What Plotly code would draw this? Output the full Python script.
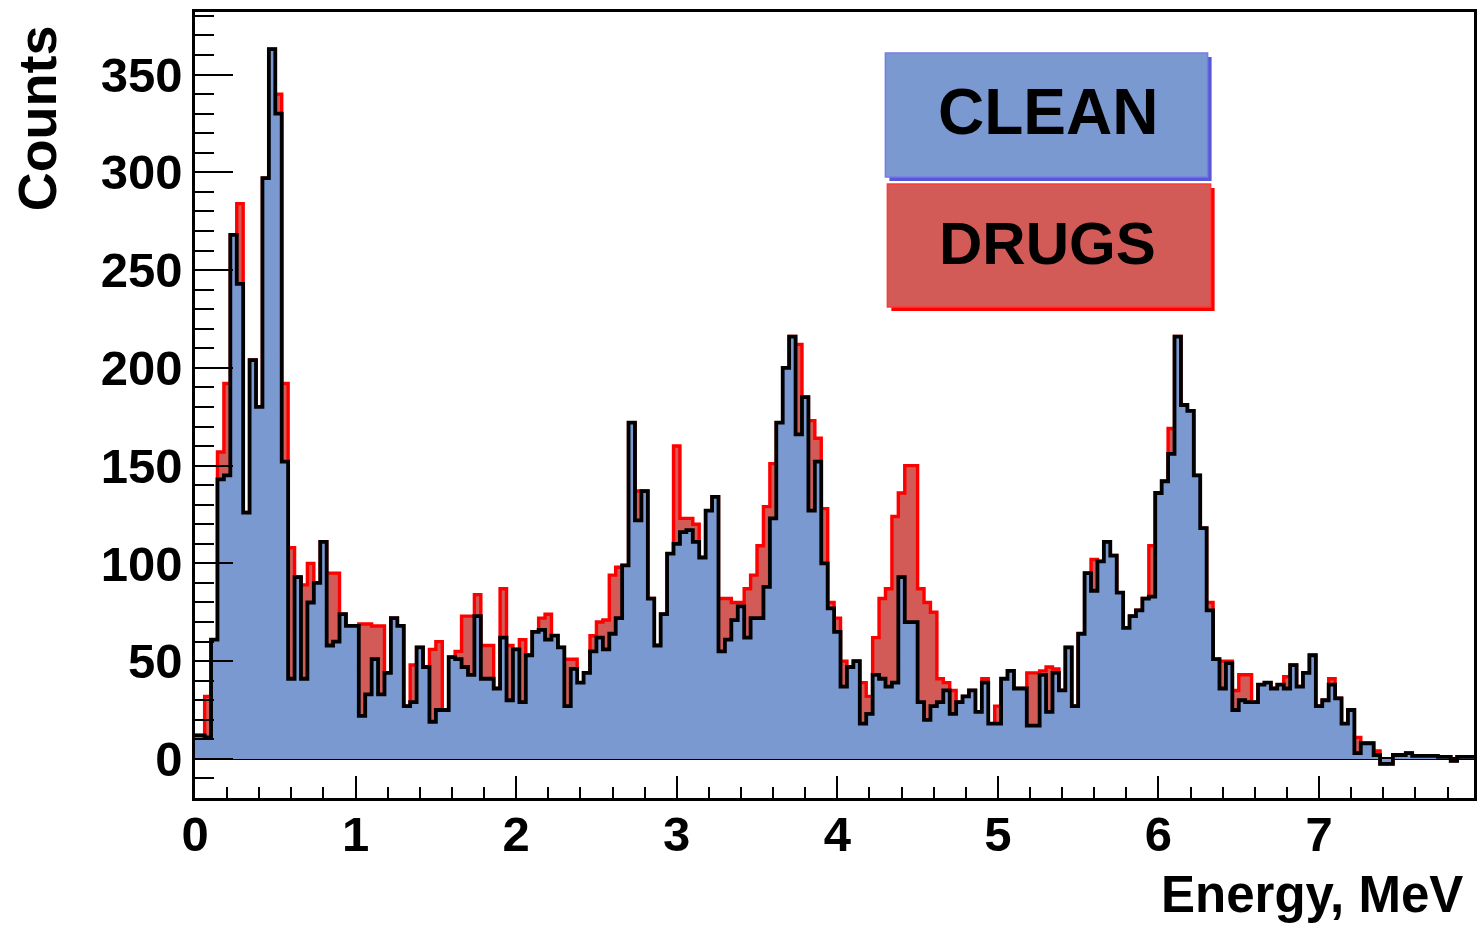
import plotly.graph_objects as go

bin_width = 0.04   # MeV, bins centred on multiples of 0.04
first_center = 0.0

clean = [12, 12, 11, 61, 143, 145, 268, 243, 126, 204,
         180, 297, 363, 330, 152, 41, 93, 41, 80, 90,
         111, 58, 60, 74, 68, 68, 22, 33, 51, 33,
         44, 72, 68, 27, 29, 57, 47, 19, 25, 25,
         52, 51, 47, 43, 73, 41, 41, 36, 62, 30,
         56, 29, 53, 65, 66, 61, 63, 57, 27, 46,
         39, 44, 55, 62, 56, 64, 72, 99, 172, 122,
         137, 82, 58, 74, 105, 110, 116, 117, 111, 103,
         127, 134, 55, 61, 71, 78, 62, 72, 72, 88,
         123, 172, 200, 216, 166, 185, 127, 152, 100, 77,
         65, 37, 47, 50, 18, 23, 43, 41, 37, 39,
         93, 70, 70, 29, 20, 27, 29, 35, 23, 29,
         32, 35, 24, 39, 18, 18, 41, 45, 36, 36,
         17, 17, 43, 24, 44, 35, 57, 27, 64, 95,
         86, 101, 111, 104, 85, 67, 73, 76, 82, 83,
         136, 142, 156, 216, 181, 178, 145, 118, 76, 51,
         36, 49, 25, 30, 29, 29, 38, 39, 36, 38,
         36, 48, 37, 44, 53, 27, 30, 38, 31, 18,
         25, 3, 8, 8, 2, -2.5, -2.5, 2, 2, 3,
         1.5, 1.5, 1.5, 1.5, 1, 1, -1, 1, 1, 1]

drugs = [12, 12, 32, 61, 157, 192, 268, 284, 126, 204,
         180, 297, 363, 340, 192, 108, 93, 89, 100, 90,
         111, 95, 95, 74, 68, 68, 69, 69, 68, 68,
         44, 72, 68, 27, 48, 57, 47, 56, 60, 25,
         52, 55, 73, 73, 84, 58, 58, 36, 87, 58,
         56, 61, 53, 65, 72, 74, 63, 57, 51, 51,
         39, 44, 63, 70, 71, 94, 98, 99, 172, 137,
         137, 82, 58, 74, 105, 160, 123, 123, 120, 103,
         127, 134, 82, 82, 80, 80, 87, 94, 109, 129,
         151, 172, 200, 216, 212, 185, 173, 164, 128, 80,
         72, 50, 47, 50, 39, 32, 62, 82, 87, 124,
         136, 150, 150, 87, 80, 75, 41, 39, 35, 29,
         32, 35, 24, 41, 18, 27, 41, 45, 36, 36,
         44, 44, 45, 47, 46, 35, 57, 27, 64, 95,
         102, 101, 111, 104, 85, 67, 73, 76, 82, 109,
         136, 142, 169, 216, 181, 178, 145, 118, 80, 51,
         50, 50, 35, 43, 43, 29, 38, 39, 36, 38,
         42, 48, 37, 44, 53, 27, 30, 41, 31, 18,
         25, 11, 8, 8, 4, -2.5, -2.5, 2, 2, 3,
         1.5, 1.5, 1.5, 1.5, 1, 1, -1, 1, 1, 1]

x_ticks = [0, 1, 2, 3, 4, 5, 6, 7]
legend_labels = ["CLEAN", "DRUGS"]

edges = [round(first_center - bin_width / 2 + i * bin_width, 4)
         for i in range(len(clean) + 1)]


def step_y(vals):
    return list(vals) + [vals[-1]]


fig = go.Figure()
fig.add_trace(go.Scatter(
    x=edges, y=step_y(drugs), mode="lines", line_shape="hv",
    line=dict(color="#ff0000", width=3.4), fill="tozeroy",
    fillcolor="#d25a57", name="DRUGS", hoverinfo="skip"))
fig.add_trace(go.Scatter(
    x=edges, y=step_y(clean), mode="lines", line_shape="hv",
    line=dict(color="#000000", width=3.8), fill="tozeroy",
    fillcolor="#7b99d1", name="CLEAN", hoverinfo="skip"))

L, R, T, B = 195, 1477, 12, 798
W, H = R - L, B - T


def px(x):
    return (x - L) / W


def py(y):
    return (B - y) / H


font_b = dict(family="Liberation Sans", color="black", weight="bold")

shapes = [
    dict(type="rect", xref="paper", yref="paper",
         x0=px(891), x1=px(1214), y0=py(181), y1=py(57),
         fillcolor="#5757d9", line=dict(width=0), layer="above"),
    dict(type="rect", xref="paper", yref="paper",
         x0=px(887), x1=px(1210), y0=py(177), y1=py(53),
         fillcolor="#7b99d1", line=dict(color="#7a7ae6", width=1.5), layer="above"),
    dict(type="rect", xref="paper", yref="paper",
         x0=px(893), x1=px(1217), y0=py(311), y1=py(188),
         fillcolor="#ff0000", line=dict(width=0), layer="above"),
    dict(type="rect", xref="paper", yref="paper",
         x0=px(889), x1=px(1213), y0=py(307), y1=py(184),
         fillcolor="#d25a57", line=dict(color="#ff3a3a", width=1.5), layer="above"),
]

annotations = [
    dict(text=legend_labels[0], xref="paper", yref="paper", x=px(1050), y=py(112),
         xanchor="center", yanchor="middle", showarrow=False,
         font=dict(size=64, **font_b)),
    dict(text=legend_labels[1], xref="paper", yref="paper", x=px(1050), y=py(243),
         xanchor="center", yanchor="middle", showarrow=False,
         font=dict(size=60, **font_b)),
    dict(text="Counts", xref="paper", yref="paper", x=px(37), y=py(118),
         xanchor="center", yanchor="middle", textangle=-90, showarrow=False,
         font=dict(size=54, **font_b)),
    dict(text="Energy, MeV", xref="paper", yref="paper", x=px(1468), y=py(894),
         xanchor="right", yanchor="middle", showarrow=False,
         font=dict(size=51, **font_b)),
]

fig.update_layout(
    width=1483, height=930,
    margin=dict(l=L, r=1483 - R, t=T, b=930 - B),
    plot_bgcolor="white", paper_bgcolor="white",
    showlegend=False, shapes=shapes, annotations=annotations,
)
fig.update_xaxes(
    range=[0, 7.965], tickvals=x_ticks, ticktext=[str(v) for v in x_ticks],
    ticks="inside", ticklen=22, tickwidth=2, tickcolor="black",
    minor=dict(dtick=0.2, tick0=0, ticks="inside", ticklen=11, tickwidth=2,
               tickcolor="black", showgrid=False),
    showgrid=False, zeroline=False, showline=True, linewidth=2.5,
    linecolor="black", mirror=True, layer="above traces",
    ticklabelstandoff=-9,
    tickfont=dict(size=49, **font_b),
)
fig.update_yaxes(
    range=[-20, 382], tick0=0, dtick=50,
    ticks="inside", ticklen=38, tickwidth=2, tickcolor="black",
    minor=dict(dtick=10, tick0=0, ticks="inside", ticklen=19, tickwidth=2,
               tickcolor="black", showgrid=False),
    showgrid=False, zeroline=True, zerolinecolor="black", zerolinewidth=2.5,
    showline=True, linewidth=2.5, linecolor="black", mirror=True,
    layer="above traces",
    tickfont=dict(size=49, **font_b),
)

fig.write_html("out.html")
